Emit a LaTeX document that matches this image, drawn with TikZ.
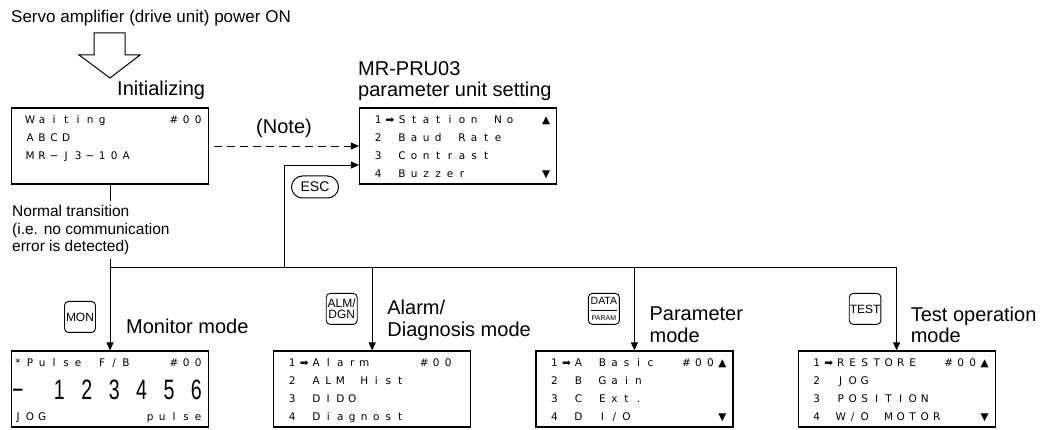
\documentclass[tikz,border=0pt]{standalone}
\usepackage{fontspec}
\usepackage{graphicx}
\setmainfont{Liberation Sans}
\newfontfamily\lcdfont{DejaVu Sans}
\usetikzlibrary{positioning,arrows.meta,calc}
\makeatletter
% one character per display cell
\newcommand\lcd[1]{\@tfor\lcdch:=#1\do{\makebox[12pt][c]{\lcdch}}}
\makeatother
\newcommand\narrowdigit[1]{\scalebox{0.7}[1]{#1}}
\tikzset{
  lcdbox/.style={draw, line width=1.2pt, minimum width=197pt, minimum height=76pt, inner sep=0pt},
  lcdrow/.style={anchor=base west, inner sep=0pt, font=\lcdfont\fontsize{10.5}{12}\selectfont},
  bigdigit/.style={anchor=base, inner sep=0pt, font=\fontsize{28}{28}\selectfont},
  modelabel/.style={anchor=west, align=left, inner sep=0pt, font=\fontsize{20}{21.5}\selectfont},
  notelabel/.style={anchor=west, align=left, inner xsep=0pt, inner ysep=4pt, font=\fontsize{15.5}{17.5}\selectfont},
  keybox/.style={draw, line width=0.9pt, rounded corners=4pt, minimum width=31pt, minimum height=31pt, inner sep=0.5pt, align=center, font=\fontsize{12}{11.5}\selectfont},
  esckey/.style={draw, line width=1pt, rounded corners=11pt, minimum width=47pt, minimum height=22pt, inner sep=0pt, font=\fontsize{14}{14}\selectfont},
  link/.style={line width=0.9pt},
  flowarrow/.style={link, -{Triangle[length=8pt,width=7pt]}}
}
\begin{document}
\begin{tikzpicture}[x=1pt, y=-1pt, node distance=64pt]
  \useasboundingbox (0,0) rectangle (1057,430);
  % power on
  \node[anchor=west, inner sep=0pt, font=\fontsize{17}{20}\selectfont] (power) at (11,18) {Servo amplifier (drive unit) power ON};
  \draw[line width=1pt, fill=white] (94,33) -- (125,33) -- (125,55) -- (140,55) -- (110,78) -- (79,55) -- (94,55) -- cycle;

  % initial display and parameter unit display
  \node[modelabel] (initlabel) at (117,90) {Initializing};
  \node[lcdbox] (init) at (110,146) {};
  \node[lcdrow] (init1) at ($(init.north west)+(1,16)$) {\lcd{~Waiting~~~~~\#00}};
  \node[lcdrow] (init2) at ($(init.north west)+(1,34)$) {\lcd{~ABCD}};
  \node[lcdrow] (init3) at ($(init.north west)+(1,52)$) {\lcd{~MR−J3−10A}};

  \node[modelabel] (prulabel) at (358,81) {MR-PRU03\\parameter unit setting};
  \node[lcdbox] (pru) at (458,146) {};
  \node[lcdrow] (pru1) at ($(pru.north west)+(1,16)$) {\lcd{~1➡Station~No~~▲}};
  \node[lcdrow] (pru2) at ($(pru.north west)+(1,34)$) {\lcd{~2~Baud~Rate}};
  \node[lcdrow] (pru3) at ($(pru.north west)+(1,52)$) {\lcd{~3~Contrast}};
  \node[lcdrow] (pru4) at ($(pru.north west)+(1,70)$) {\lcd{~4~Buzzer~~~~~~▼}};

  \node[inner sep=0pt, font=\fontsize{20}{20}\selectfont] (note) at (284,128) {(Note)};
  \draw[flowarrow, dash pattern=on 8pt off 5pt, shorten <=5pt] (init.east) -- (pru.west);

  \node[esckey] (esc) at (315,187) {ESC};
  \coordinate (escfork) at (284,267);
  \draw[flowarrow] (escfork) |- ($(pru.west)+(0,19)$);

  \node[notelabel] (normal) at (12,230) {Normal transition\\(i.e. no communication\\error is detected)};

  % mode displays
  \node[lcdbox] (monitor) at (110,389) {};
  \node[lcdbox, right=of monitor] (alarm) {};
  \node[lcdbox, right=of alarm] (param) {};
  \node[lcdbox, right=of param] (test) {};

  \draw[link] (init.south) -- (init.south |- normal.north);
  \draw[flowarrow] (init.south |- normal.south) -- (monitor.north);
  \draw[flowarrow] (monitor.north |- escfork) -| (test.north);
  \draw[flowarrow] (alarm.north |- escfork) -- (alarm.north);
  \draw[flowarrow] (param.north |- escfork) -- (param.north);

  % monitor mode
  \node[keybox] (monkey) at ($(monitor.north)+(-30,-33.5)$) {MON};
  \node[modelabel] (monlabel) at ($(monitor.north)+(16,-24)$) {Monitor mode};
  \node[lcdrow] (mon1) at ($(monitor.north west)+(1,16)$) {\lcd{*Pulse~F∕B~~~\#00}};
  \node[bigdigit] (sign) at ($(monitor.north west)+(7,49)$) {\narrowdigit{−}};
  \foreach \d [count=\k from 0] in {1,...,6}
    \node[bigdigit] (digit\d) at ($(monitor.north west)+(48.5+27.4*\k,49)$) {\narrowdigit{\d}};
  \node[lcdrow] (mon4) at ($(monitor.north west)+(1,70)$) {\lcd{JOG~~~~~~~~pulse}};

  % alarm/diagnosis mode
  \node[keybox] (almkey) at ($(alarm.north)+(-30.5,-41.5)$) {ALM/\\DGN};
  \node[modelabel] (almlabel) at ($(alarm.north)+(15,-30)$) {Alarm/\\Diagnosis mode};
  \node[lcdrow] (alm1) at ($(alarm.north west)+(1,16)$) {\lcd{~1➡Alarm~~~~\#00~}};
  \node[lcdrow] (alm2) at ($(alarm.north west)+(1,34)$) {\lcd{~2~ALM~Hist}};
  \node[lcdrow] (alm3) at ($(alarm.north west)+(1,52)$) {\lcd{~3~DIDO}};
  \node[lcdrow] (alm4) at ($(alarm.north west)+(1,70)$) {\lcd{~4~Diagnost}};

  % parameter mode
  \node[keybox] (datakey) at ($(param.north)+(-30.5,-41.5)$) {\fontsize{10.5}{10}\selectfont DATA\\[-3pt]\rule[2pt]{26pt}{0.6pt}\\[-4pt]{\fontsize{7}{7}\selectfont PARAM}};
  \node[modelabel] (paramlabel) at ($(param.north)+(15,-25.5)$) {Parameter\\mode};
  \node[lcdrow] (par1) at ($(param.north west)+(1,16)$) {\lcd{~1➡A~Basic~~\#00▲}};
  \node[lcdrow] (par2) at ($(param.north west)+(1,34)$) {\lcd{~2~B~Gain}};
  \node[lcdrow] (par3) at ($(param.north west)+(1,52)$) {\lcd{~3~C~Ext.}};
  \node[lcdrow] (par4) at ($(param.north west)+(1,70)$) {\lcd{~4~D~I∕O~~~~~~~▼}};

  % test operation mode
  \node[keybox] (testkey) at ($(test.north)+(-31.5,-41.5)$) {TEST};
  \node[modelabel] (testlabel) at ($(test.north)+(14,-25.5)$) {Test operation\\mode};
  \node[lcdrow] (tst1) at ($(test.north west)+(1,16)$) {\lcd{~1➡RESTORE~~\#00▲}};
  \node[lcdrow] (tst2) at ($(test.north west)+(1,34)$) {\lcd{~2~JOG}};
  \node[lcdrow] (tst3) at ($(test.north west)+(1,52)$) {\lcd{~3~POSITION}};
  \node[lcdrow] (tst4) at ($(test.north west)+(1,70)$) {\lcd{~4~W∕O~MOTOR~~~▼}};
\end{tikzpicture}
\end{document}
